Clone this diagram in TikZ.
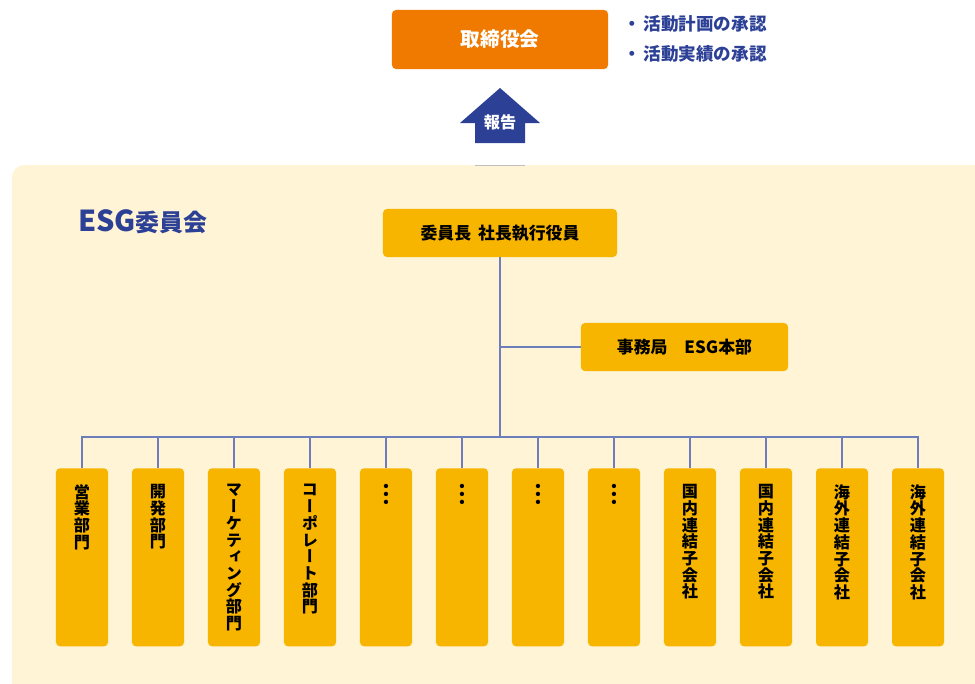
\documentclass[tikz,border=0pt]{standalone}
\usepackage{fontspec}
\setmainfont{Noto Sans CJK JP}
\newfontfamily\vjp{Noto Sans CJK JP}[RawFeature=+vert]
\usetikzlibrary{positioning}
\definecolor{esgCream}{RGB}{255,244,214}
\definecolor{esgOrange}{RGB}{240,122,0}
\definecolor{esgYellow}{RGB}{247,181,0}
\definecolor{esgNavy}{RGB}{44,64,150}
\definecolor{esgLine}{RGB}{110,126,186}
\newcommand\vstack[1]{\parbox[c][4.45cm][t]{1.3cm}{\vspace*{0.4cm}\centering\vjp\bfseries\fontsize{11.5}{11.9}\selectfont #1}}
\newcommand\vdotsbig{{\fontsize{17}{17}\selectfont ︙}}
\tikzset{
    base/.style={font=\bfseries, align=center, inner sep=0pt},
    board/.style={base, rectangle, rounded corners=1mm, fill=esgOrange, text=white,
                  minimum width=5.4cm, minimum height=1.475cm,
                  font=\bfseries\fontsize{14}{16}\selectfont},
    post/.style={base, rectangle, rounded corners=1mm, fill=esgYellow, text=black,
                 minimum height=1.2cm, font=\bfseries\fontsize{12}{14}\selectfont},
    dept/.style={rectangle, rounded corners=1mm, fill=esgYellow, inner sep=0pt, anchor=north},
    link/.style={draw=esgLine, line width=0.8pt},
    note/.style={base, anchor=west, text=esgNavy, font=\bfseries\fontsize{12.5}{14}\selectfont}
}
\begin{document}
\begin{tikzpicture}[x=0.025cm, y=-0.025cm]
  \useasboundingbox (0,0) rectangle (975,684);

  % Committee panel
  \fill[esgCream, rounded corners=3mm] (12,165) rectangle (1000,720);
  \draw[black!25, line width=0.6pt] (475,165) -- (525,165);

  % Board of directors
  \node[board] (board) at (500,39.5) {取締役会};
  \node[note] (plan) at (623,24) {・\hspace{2pt}活動計画の承認};
  \node[note] (result) at (623,54) {・\hspace{2pt}活動実績の承認};

  % Report arrow
  \fill[esgNavy] (500,88) -- (540,123) -- (525,123) -- (525,143)
                 -- (475,143) -- (475,123) -- (460,123) -- cycle;
  \node[base, text=white, font=\bfseries\fontsize{11.5}{14}\selectfont] (report) at (500,122) {報告};

  % Committee
  \node[base, anchor=west, text=esgNavy] (title) at (78,222)
       {{\fontsize{20.5}{22}\selectfont ESG}{\fontsize{17}{18}\selectfont 委員会}};
  \node[post, minimum width=5.85cm] (chair) at (500,233) {委員長\hspace{5pt}社長執行役員};
  \node[post, minimum width=5.175cm] (office) at (684.5,347) {事務局\quad ESG本部};

  % Departments
  \foreach \i/\txt in {1/{営\\業\\部\\門}, 2/{開\\発\\部\\門},
                       3/{マ\\ー\\ケ\\テ\\ィ\\ン\\グ\\部\\門}, 4/{コ\\ー\\ポ\\レ\\ー\\ト\\部\\門},
                       5/{\vdotsbig}, 6/{\vdotsbig}, 7/{\vdotsbig}, 8/{\vdotsbig},
                       9/{国\\内\\連\\結\\子\\会\\社}, 10/{国\\内\\連\\結\\子\\会\\社},
                       11/{海\\外\\連\\結\\子\\会\\社}, 12/{海\\外\\連\\結\\子\\会\\社}}
    \node[dept] (d\i) at ({6+76*\i},468) {\vstack{\txt}};

  % Connectors
  \coordinate (branch) at (500,347);
  \coordinate (bus) at (500,437);
  \draw[link] (chair.south) -- (bus);
  \draw[link] (branch) -- (office.west);
  \draw[link] (d1.north) -- (d1.north |- bus) -- (d12.north |- bus) -- (d12.north);
  \foreach \i in {2,...,11}
    \draw[link] (d\i.north) -- (d\i.north |- bus);
\end{tikzpicture}
\end{document}
